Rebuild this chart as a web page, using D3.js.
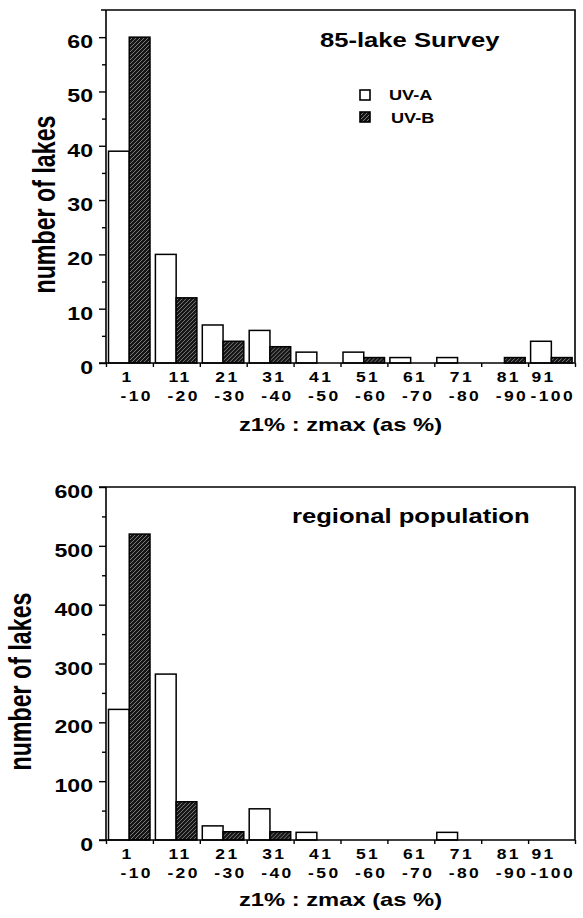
<!DOCTYPE html>
<html>
<head>
<meta charset="utf-8">
<script src="https://cdn.jsdelivr.net/npm/d3@7"></script>
<style>
  body { margin: 0; background: #fff; }
  svg { display: block; font-family: "Liberation Sans", Arial, Helvetica, sans-serif; font-weight: bold; }
</style>
</head>
<body>
<script>
// bins of z1% : zmax
const categories = ["1-10", "11-20", "21-30", "31-40", "41-50", "51-60", "61-70", "71-80", "81-90", "91-100"];
const tickTop = ["1", "11", "21", "31", "41", "51", "61", "71", "81", "91"];
const tickBottom = ["-10", "-20", "-30", "-40", "-50", "-60", "-70", "-80", "-90", "-100"];
const series = ["UV-A", "UV-B"];

// 85-lake survey
const surveyUVA = [39, 20, 7, 6, 2, 2, 1, 1, 0, 4];
const surveyUVB = [60, 12, 4, 3, 0, 1, 0, 0, 1, 1];

// regional population
const regionUVA = [222, 282, 24, 53, 13, 0, 0, 13, 0, 0];
const regionUVB = [520, 65, 14, 14, 0, 0, 0, 0, 0, 0];

const width = 583, height = 918;
const SX = 1.25; // the scanned type is stretched sideways

const svg = d3.select("body").append("svg")
    .attr("width", width)
    .attr("height", height);

svg.append("rect").attr("width", width).attr("height", height).attr("fill", "#fff");

// hatch for the dark bars
const pat = svg.append("defs").append("pattern")
    .attr("id", "hatch")
    .attr("patternUnits", "userSpaceOnUse")
    .attr("width", 4)
    .attr("height", 4);
pat.append("rect").attr("width", 4).attr("height", 4).attr("fill", "#151515");
pat.append("path")
    .attr("d", "M-1,1 l2,-2 M0,4 l4,-4 M3,5 l2,-2")
    .attr("stroke", "#a8a8a8")
    .attr("stroke-width", 0.7);

function stretched(g, x, y, str, size, anchor) {
    return g.append("text")
        .attr("transform", `translate(${x},${y}) scale(${SX},1)`)
        .attr("text-anchor", anchor || "start")
        .style("font-size", size + "px")
        .text(str);
}

function panel(opt) {
    const { top, bottom, left, right, max, major, uva, uvb, title, titleX, titleY, ylabX, legend, xtitleY } = opt;
    const g = svg.append("g");

    const x0 = d3.scaleBand().domain(categories).range([left, right]);
    const x1 = d3.scaleBand().domain(series).range([2.5, 44]);
    const xb = d3.scaleLinear().domain([0, categories.length]).range([left, right]);
    const y = d3.scaleLinear().domain([0, max]).range([bottom, top]);

    const rows = categories.map((c, i) => ({ cat: c, "UV-A": uva[i], "UV-B": uvb[i] }));

    // bars
    g.append("g")
        .selectAll("g")
        .data(rows)
        .join("g")
        .attr("transform", d => `translate(${x0(d.cat)},0)`)
        .selectAll("rect")
        .data(d => series.map(s => ({ key: s, value: d[s] })).filter(d => d.value > 0))
        .join("rect")
        .attr("x", d => x1(d.key))
        .attr("width", x1.bandwidth())
        .attr("y", d => y(d.value))
        .attr("height", d => y(0) - y(d.value))
        .attr("fill", d => d.key === "UV-A" ? "#fff" : "url(#hatch)")
        .attr("stroke", "#000")
        .attr("stroke-width", 1.5);

    // frame: top + right
    const topIsTick = max % major === 0;
    g.append("path")
        .attr("d", `M${left - (topIsTick ? 7 : 5)},${top}H${right}V${bottom}`)
        .attr("fill", "none")
        .attr("stroke", "#000")
        .attr("stroke-width", 1.6);

    // y axis
    const yAxis = g.append("g")
        .attr("transform", `translate(${left},0)`)
        .call(d3.axisLeft(y)
            .tickValues(d3.range(0, max + 0.1, major / 2).filter(v => v < max || topIsTick))
            .tickSize(7)
            .tickFormat(() => ""));
    yAxis.select(".domain").attr("stroke-width", 1.6).attr("d", `M0,${top}V${bottom}`);
    yAxis.selectAll(".tick line")
        .attr("stroke-width", 1.4)
        .attr("x2", d => d % major === 0 ? -7 : -4);

    d3.range(0, max + 0.1, major).forEach(v => {
        stretched(g, left - 13, y(v) + 11, v, 18.5, "end");
    });

    // x axis (ticks on bin edges)
    const xAxis = g.append("g")
        .attr("transform", `translate(0,${bottom})`)
        .call(d3.axisBottom(xb)
            .tickValues(d3.range(0, categories.length + 1))
            .tickSize(4)
            .tickFormat(() => ""));
    xAxis.select(".domain").attr("stroke-width", 1.6).attr("d", `M${left - 7},0H${right}`);
    xAxis.selectAll(".tick line").attr("stroke-width", 1.4);

    // two-line bin labels
    categories.forEach((c, i) => {
        const xe = x0(c) + x0.bandwidth();
        const t2 = stretched(g, xe, bottom + 38, tickBottom[i], 14, "end")
            .style("letter-spacing", "1.9px");
        const w = t2.node().getComputedTextLength() * SX;
        stretched(g, xe - w + 1, bottom + 19, tickTop[i], 14, "start")
            .style("letter-spacing", "1.9px");
    });

    // axis titles
    stretched(g, (left + right) / 2, xtitleY, "z1% : zmax (as %)", 19, "middle");

    g.append("text")
        .attr("transform", `translate(${ylabX},${(top + bottom) / 2 + 18}) rotate(-90) scale(1,1.35)`)
        .attr("text-anchor", "middle")
        .attr("textLength", 178)
        .attr("lengthAdjust", "spacingAndGlyphs")
        .style("font-size", "23px")
        .text("number of lakes");

    stretched(g, titleX, titleY, title, 20.5, "start");

    if (legend) {
        const lg = g.append("g");
        series.forEach((s, i) => {
            lg.append("rect")
                .attr("x", 360)
                .attr("y", 90 + i * 22)
                .attr("width", 10)
                .attr("height", 10)
                .attr("fill", s === "UV-A" ? "#fff" : "url(#hatch)")
                .attr("stroke", "#000")
                .attr("stroke-width", 1.6);
            stretched(lg, 389 + i * 2, 100 + i * 23, s, 14.5, "start");
        });
    }
}

panel({
    top: 10, bottom: 363, left: 106, right: 575, max: 65, major: 10,
    uva: surveyUVA, uvb: surveyUVB,
    title: "85-lake Survey", titleX: 320, titleY: 47,
    ylabX: 55, legend: true, xtitleY: 431
});

panel({
    top: 487, bottom: 840, left: 106, right: 575, max: 600, major: 100,
    uva: regionUVA, uvb: regionUVB,
    title: "regional population", titleX: 292, titleY: 523,
    ylabX: 31, legend: false, xtitleY: 906
});
</script>
</body>
</html>
